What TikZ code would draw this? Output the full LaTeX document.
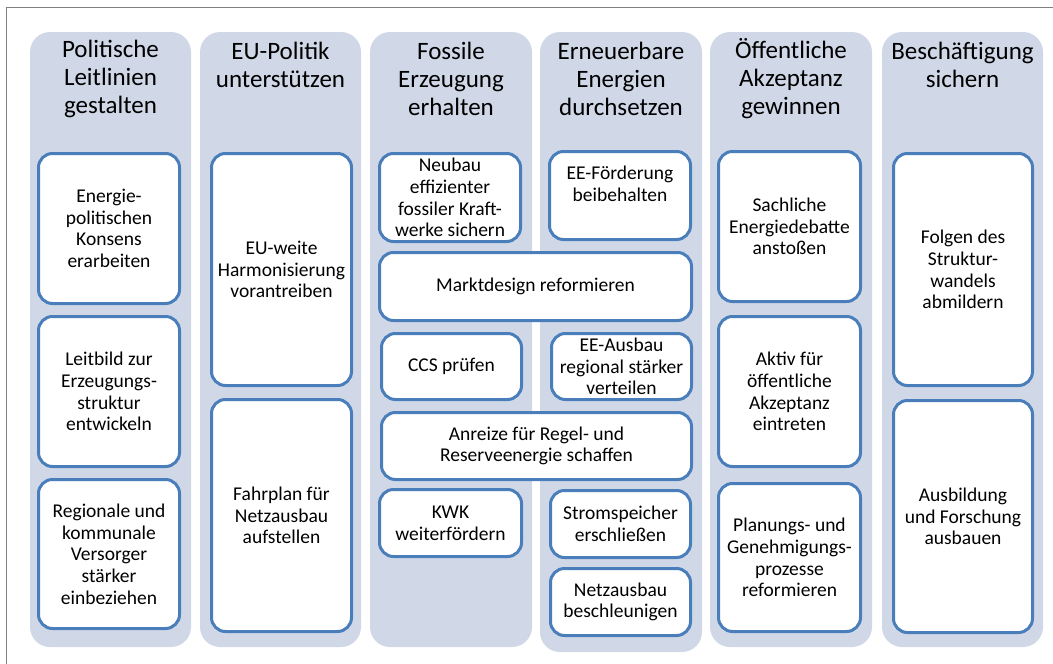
\documentclass[tikz,border=0pt]{standalone}
\usepackage{fontspec}
\setmainfont{Carlito}
\definecolor{colfill}{HTML}{D0D8E8}
\definecolor{boxblue}{HTML}{4A7EBB}
\definecolor{framegray}{HTML}{808080}
\tikzset{
  colbox/.style={fill=colfill, draw=none, rounded corners=20pt, inner sep=0pt},
  coltitle/.style={align=center, font=\fontsize{25}{28}\selectfont, inner sep=0pt},
  itembox/.style={draw=boxblue, line width=3pt, fill=white, rounded corners=14pt,
    align=center, inner sep=0pt, font=\fontsize{19.5}{21.7}\selectfont},
}
\newcommand{\itm}[7]{\node[itembox, minimum width=#4pt, minimum height=#5pt] (#1) at (#2,#3) {#6};}
\begin{document}
\begin{tikzpicture}[x=1pt,y=-1pt]
\useasboundingbox (0,0) rectangle (1053,664);
\draw[framegray, line width=0.9pt] (6,664) -- (6,7) -- (1053,7);
% columns
\node[colbox, minimum width=161pt, minimum height=615pt] (c1) at (110.5,339.5) {};
\node[colbox, minimum width=161pt, minimum height=615pt] (c2) at (280.5,339.5) {};
\node[colbox, minimum width=162pt, minimum height=615pt] (c3) at (451,339.5) {};
\node[colbox, minimum width=162pt, minimum height=620pt] (c4) at (621,342) {};
\node[colbox, minimum width=162pt, minimum height=615pt] (c5) at (791,339.5) {};
\node[colbox, minimum width=161pt, minimum height=615pt] (c6) at (962.5,339.5) {};
% titles
\node[coltitle] (t1) at (110.5,79) {Politische\\Leitlinien\\gestalten};
\node[coltitle] (t2) at (280.5,65) {EU-Politik\\unterstützen};
\node[coltitle] (t3) at (451,79) {Fossile\\Erzeugung\\erhalten};
\node[coltitle] (t4) at (621,79) {Erneuerbare\\Energien\\durchsetzen};
\node[coltitle] (t5) at (791,79) {Öffentliche\\Akzeptanz\\gewinnen};
\node[coltitle] (t6) at (962.5,65) {Beschäftigung\\sichern};
% column 1
\itm{a1}{109}{228.5}{141}{150}{Energie-\\politischen\\Konsens\\erarbeiten}{}
\itm{a2}{109}{391.5}{141}{150}{Leitbild zur\\Erzeugungs-\\struktur\\entwickeln}{}
\itm{a3}{109}{554}{141}{149}{Regionale und\\kommunale\\Versorger\\stärker\\einbeziehen}{}
% column 2
\itm{b1}{281.5}{269.5}{140}{232}{EU-weite\\Harmonisierung\\vorantreiben}{}
\itm{b2}{281.5}{515.5}{140}{232}{Fahrplan für\\Netzausbau\\aufstellen}{}
% columns 3/4
\itm{f1}{450}{197.5}{141}{88}{Neubau\\effizienter\\fossiler Kraft-\\werke sichern}{}
\itm{e1}{620}{195.5}{141}{88}{EE-Förderung\\beibehalten\\[2pt]}{}
\itm{m1}{535.5}{286.5}{312}{68}{Marktdesign reformieren}{}
\itm{f2}{451.5}{366.5}{140}{66}{CCS prüfen}{}
\itm{e2}{621.5}{366.5}{140}{66}{EE-Ausbau\\regional stärker\\verteilen}{}
\itm{m2}{536.5}{446}{310}{67}{Anreize für Regel- und\\Reserveenergie schaffen}{}
\itm{f3}{450.5}{523}{142}{67}{KWK\\weiterfördern}{}
\itm{e3}{620.5}{524}{140}{67}{Stromspeicher\\erschließen}{}
\itm{e4}{620.5}{602}{140}{67}{Netzausbau\\beschleunigen}{}
% column 5
\itm{p1}{789.5}{226.5}{142}{150}{Sachliche\\Energiedebatte\\anstoßen}{}
\itm{p2}{789.5}{391.5}{142}{150}{Aktiv für\\öffentliche\\Akzeptanz\\eintreten}{}
\itm{p3}{789.5}{557.5}{142}{148}{Planungs- und\\Genehmigungs-\\prozesse\\reformieren}{}
% column 6
\itm{s1}{963}{269.5}{139}{232}{Folgen des\\Struktur-\\wandels\\abmildern}{}
\itm{s2}{963}{516.5}{139}{232}{Ausbildung\\und Forschung\\ausbauen}{}
\end{tikzpicture}
\end{document}
